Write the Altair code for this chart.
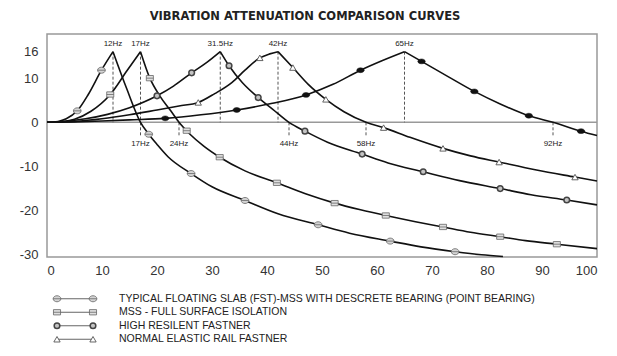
import altair as alt
import pandas as pd

NARROW = "Liberation Sans Narrow, Arial Narrow, Liberation Sans, sans-serif"

series_names = ["FST", "MSS", "HRF", "NERF", "OTHER"]

# ---- curve points (x = Hz, y = dB) ----
fst_x = [0, 2, 3.5, 5.5, 7.5, 9.9, 12, 14.5, 17, 18.5, 20, 22, 26.2, 30, 36, 42, 49.3, 55, 62.4, 68, 74.2, 79, 82.9]
fst_y = [0, 0.2, 0.8, 2.6, 6.3, 11.8, 16, 7.6, 0, -2.7, -5.0, -7.8, -11.6, -14.6, -17.7, -20.7, -23.2, -25.1, -26.9, -28.2, -29.3, -30.0, -30.4]

mss_x = [0, 3, 5, 8, 11.5, 14.6, 17, 18.7, 20.5, 22.5, 24, 26, 28.5, 31.4, 36, 41.8, 47, 52.3, 57, 61.6, 67, 72, 77, 82.4, 87, 92.7, 100]
mss_y = [0, 0.2, 0.7, 2.5, 6.3, 11.8, 16, 10.0, 6.0, 2.6, 0, -2.7, -5.4, -7.9, -11.0, -13.7, -16.2, -18.3, -19.8, -21.1, -22.5, -23.7, -24.9, -25.9, -26.8, -27.6, -28.6]

hrf_x = [0, 3, 7, 11, 15, 20, 23, 26.3, 29, 31.5, 33.1, 35.5, 38.4, 41, 44, 46.9, 51, 57.3, 62, 68.4, 75, 82.4, 88, 94.5, 100]
hrf_y = [0, 0.2, 0.8, 1.8, 3.3, 6.0, 8.2, 11.2, 13.5, 16, 12.8, 9.0, 5.6, 3.0, 0, -2.0, -4.5, -7.2, -9.2, -11.2, -13.2, -15.0, -16.4, -17.6, -18.7]

nerf_x = [0, 5, 10, 15, 20, 24, 27.5, 30.5, 33.6, 36, 38.7, 40.5, 42, 44.7, 47.5, 50.7, 54, 58, 61.2, 66, 72, 77, 82.2, 89, 96, 100]
nerf_y = [0, 0.2, 0.8, 1.7, 2.8, 3.7, 4.5, 6.5, 9.0, 11.8, 14.6, 15.5, 16, 12.4, 8.6, 5.2, 2.4, 0, -1.2, -3.4, -5.9, -7.6, -9.0, -10.8, -12.4, -13.3]

oth_x = [0, 5, 10, 15, 21.5, 28, 34.5, 41, 47.1, 52, 57, 61, 65, 68.1, 73, 77.7, 82.5, 87.6, 92, 97.1, 100]
oth_y = [0, 0.1, 0.3, 0.55, 0.9, 1.7, 2.8, 4.3, 6.2, 8.6, 11.8, 14.0, 16, 13.8, 10.3, 7.0, 4.1, 1.5, 0, -2.0, -3.0]

# ---- marker positions ----
fst_mx = [5.5, 9.9, 18.5, 26.2, 36, 49.3, 62.4, 74.2]
fst_my = [2.6, 11.8, -2.7, -11.6, -17.7, -23.2, -26.9, -29.3]
mss_mx = [11.5, 18.7, 25.4, 31.4, 41.8, 52.3, 61.6, 72, 82.4, 92.7]
mss_my = [6.3, 10.0, -1.9, -7.9, -13.7, -18.3, -21.1, -23.7, -25.9, -27.6]
hrf_mx = [20, 26.3, 33.1, 38.4, 46.9, 57.3, 68.4, 82.4, 94.5]
hrf_my = [6.0, 11.2, 12.8, 5.6, -2.0, -7.2, -11.2, -15.0, -17.6]
nerf_mx = [27.5, 38.7, 44.7, 50.7, 61.2, 72, 82.2, 96]
nerf_my = [4.5, 14.6, 12.4, 5.2, -1.2, -5.9, -9.0, -12.4]
oth_mx = [21.5, 34.5, 47.1, 57, 68.1, 77.7, 87.6, 97.1]
oth_my = [0.9, 2.8, 6.2, 11.8, 13.8, 7.0, 1.5, -2.0]

# ---- annotations ----
peak_freqs = [12, 17, 31.5, 42, 65]
peak_labels = ["12Hz", "17Hz", "31.5Hz", "42Hz", "65Hz"]
peak_value = 16
cross_freqs = [17, 24, 44, 58, 92]
cross_labels = ["17Hz", "24Hz", "44Hz", "58Hz", "92Hz"]
cross_tick_end = -3

x_ticks = [0, 10, 20, 30, 40, 50, 60, 70, 80, 90, 100]
y_ticks = [16, 10, 0, -10, -20, -30]

legend_labels = [
    "TYPICAL FLOATING SLAB (FST)-MSS WITH DESCRETE BEARING (POINT BEARING)",
    "MSS  -  FULL SURFACE ISOLATION",
    "HIGH RESILENT FASTNER",
    "NORMAL ELASTIC RAIL FASTNER",
]

title_text = "VIBRATION ATTENUATION COMPARISON CURVES"

# ---- build tables ----
curves = {"FST": (fst_x, fst_y), "MSS": (mss_x, mss_y), "HRF": (hrf_x, hrf_y),
          "NERF": (nerf_x, nerf_y), "OTHER": (oth_x, oth_y)}
markers = {"FST": (fst_mx, fst_my), "MSS": (mss_mx, mss_my), "HRF": (hrf_mx, hrf_my),
           "NERF": (nerf_mx, nerf_my), "OTHER": (oth_mx, oth_my)}

rows = []
for name, (xs, ys) in curves.items():
    pk = ys.index(max(ys))
    for i, (x, y) in enumerate(zip(xs, ys)):
        if i <= pk:
            rows.append({"series": name, "seg": name + "_up", "x": x, "y": y})
        if i >= pk:
            rows.append({"series": name, "seg": name + "_down", "x": x, "y": y})
line_df = pd.DataFrame(rows)

mrows = []
for name, (xs, ys) in markers.items():
    for x, y in zip(xs, ys):
        mrows.append({"series": name, "x": x, "y": y})
mark_df = pd.DataFrame(mrows)

peak_df = pd.DataFrame({"x": peak_freqs, "label": peak_labels, "y": [peak_value] * len(peak_freqs), "y0": [0] * len(peak_freqs)})
cross_df = pd.DataFrame({"x": cross_freqs, "label": cross_labels, "y": [0] * len(cross_freqs), "y2": [cross_tick_end] * len(cross_freqs)})
zero_df = pd.DataFrame({"y": [0]})

X = alt.X("x:Q", scale=alt.Scale(domain=[0, 100], nice=False),
          axis=alt.Axis(values=x_ticks, title=None, grid=False, ticks=False, domain=False,
                        labelFont=NARROW, labelFontSize=13, labelColor="#333", labelPadding=7,
                        labelExpr="'' + datum.value"))
Y = alt.Y("y:Q", scale=alt.Scale(domain=[-30.5, 20], nice=False),
          axis=alt.Axis(values=y_ticks, title=None, grid=False, ticks=False, domain=False,
                        labelFont=NARROW, labelFontSize=13, labelColor="#333", labelPadding=9,
                        labelExpr="'' + datum.value"))

styles = {
    "FST": dict(shape="M-1,0A1,0.78 0 1,1 1,0A1,0.78 0 1,1 -1,0ZM-1,0L1,0", size=60, fill="#d4d4d4", stroke="#666666", strokeWidth=0.8),
    "MSS": dict(shape="M-1,-0.75L1,-0.75L1,0.75L-1,0.75ZM-1,0L1,0", size=50, fill="#e0e0e0", stroke="#666666", strokeWidth=0.8),
    "HRF": dict(shape="circle", size=32, fill="#c4c4c4", stroke="#444444", strokeWidth=1.5),
    "NERF": dict(shape="triangle-up", size=40, fill="#ffffff", stroke="#555555", strokeWidth=0.9),
    "OTHER": dict(shape="M-1,0A1,0.65 0 1,1 1,0A1,0.65 0 1,1 -1,0Z", size=56, fill="#111111", stroke="#111111", strokeWidth=0.5),
}

zero = alt.Chart(zero_df).mark_rule(color="#999999", strokeWidth=1.5).encode(y=alt.Y("y:Q"))
peak_rules = alt.Chart(peak_df).mark_rule(color="#555555", strokeWidth=1, strokeDash=[3, 2]).encode(
    x="x:Q", y="y:Q", y2="y0:Q")
cross_rules = alt.Chart(cross_df).mark_rule(color="#555555", strokeWidth=1, strokeDash=[3, 2]).encode(
    x="x:Q", y="y:Q", y2="y2:Q")
lines = alt.Chart(line_df).mark_line(color="#111111", strokeWidth=1.6, interpolate="monotone").encode(
    x=X, y=Y, detail="seg:N")
layers = [zero, peak_rules, cross_rules, lines]
for name in series_names:
    st = styles[name]
    layers.append(alt.Chart(mark_df).transform_filter(alt.datum.series == name).mark_point(
        filled=True, opacity=1, **st).encode(x="x:Q", y="y:Q"))
peak_text = alt.Chart(peak_df).mark_text(font=NARROW, fontSize=8, color="#222", dy=-8).encode(
    x="x:Q", y="y:Q", text="label:N")
cross_text = alt.Chart(cross_df).mark_text(font=NARROW, fontSize=8, color="#222", dy=8).encode(
    x="x:Q", y="y2:Q", text="label:N")
layers += [peak_text, cross_text]

top = alt.layer(*layers).properties(width=550, height=223,
                                    view=alt.ViewBackground(stroke="#999999", strokeWidth=1.5))

# ---- legend panel ----
leg_df = pd.DataFrame({"label": legend_labels, "series": series_names[:4]})
LY = alt.Y("label:N", scale=alt.Scale(domain=legend_labels), axis=None)
leg_layers = [alt.Chart(leg_df).mark_rule(color="#666666", strokeWidth=1).encode(
    x=alt.value(10), x2=alt.value(46), y=LY)]
for name in series_names[:4]:
    st = styles[name]
    for xv in (10, 46):
        leg_layers.append(alt.Chart(leg_df).transform_filter(alt.datum.series == name).mark_point(
            filled=True, opacity=1, **st).encode(x=alt.value(xv), y=LY))
leg_layers.append(alt.Chart(leg_df).mark_text(font=NARROW, fontSize=10.5, color="#222", align="left").encode(
    x=alt.value(72), y=LY, text="label:N"))
legend = alt.layer(*leg_layers).properties(width=550, height=54,
                                           view=alt.ViewBackground(stroke="transparent"))

chart = alt.vconcat(top, legend, spacing=13).properties(
    title=alt.TitleParams(title_text, font="DejaVu Sans", fontSize=11.5, fontWeight="bold",
                          color="#222", anchor="middle", frame="group", dx=-17, offset=11),
    padding={"left": 10, "top": 2, "right": 5, "bottom": 0},
)

chart.save("out.html", embed_options={"renderer": "svg", "actions": False})
